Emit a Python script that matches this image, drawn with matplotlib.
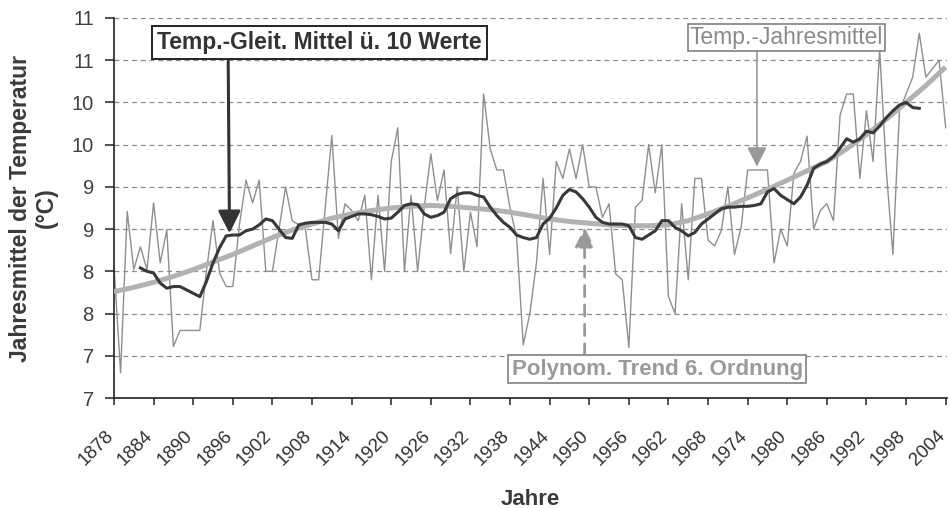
import matplotlib
matplotlib.use('Agg')
import matplotlib.pyplot as plt

plt.rcParams['font.family'] = ['Liberation Sans', 'DejaVu Sans']

#-DATA------------------------------------------------------------------------#
# Jahresmittel der Temperatur (one value per year)
years = list(range(1878, 2005))
temp_annual = [
    8.06, 6.80,                                                   # 1878-79
    8.71, 8.02, 8.29, 8.02, 8.81, 8.10, 8.49, 7.11, 7.30, 7.30,   # 1880-89
    7.30, 7.30, 8.00, 8.60, 7.98, 7.82, 7.82, 8.55, 9.08, 8.81,   # 1890-99
    9.08, 8.00, 8.00, 8.50, 9.00, 8.60, 8.55, 8.50, 7.90, 7.90,   # 1900-09
    8.75, 9.61, 8.39, 8.80, 8.72, 8.60, 8.90, 7.90, 8.90, 8.00,   # 1910-19
    9.30, 9.70, 8.00, 8.90, 8.00, 8.76, 9.39, 8.84, 9.20, 8.21,   # 1920-29
    9.00, 8.00, 8.70, 8.29, 10.10, 9.45, 9.20, 9.20, 8.75, 8.40,  # 1930-39
    7.13, 7.50, 8.10, 9.10, 8.20, 9.30, 9.10, 9.45, 9.10, 9.50,   # 1940-49
    9.00, 9.00, 8.64, 8.80, 7.97, 7.90, 7.10, 8.76, 8.84, 9.50,   # 1950-59
    8.93, 9.50, 7.70, 7.50, 8.80, 7.90, 9.10, 9.10, 8.37, 8.30,   # 1960-69
    8.48, 9.00, 8.20, 8.52, 9.20, 9.20, 9.20, 9.20, 8.10, 8.50,   # 1970-79
    8.30, 9.16, 9.30, 9.60, 8.50, 8.72, 8.80, 8.60, 9.85, 10.10,  # 1980-89
    10.10, 9.10, 9.90, 9.30, 10.62, 9.20, 8.20, 9.90, 10.10, 10.30,  # 1990-99
    10.82, 10.30, 10.40, 10.50, 9.70,                             # 2000-04
]

# Gleitendes Mittel ueber 10 Werte (dark line), 1882-2000
ma_years = list(range(1882, 2001))
temp_ma10 = [
    8.04, 8.00, 7.98, 7.86, 7.80, 7.82, 7.82, 7.78,               # 1882-89
    7.74, 7.70, 7.88, 8.10, 8.28, 8.42, 8.43, 8.43, 8.48, 8.50,   # 1890-99
    8.55, 8.62, 8.60, 8.50, 8.40, 8.39, 8.55, 8.57, 8.58, 8.58,   # 1900-09
    8.58, 8.56, 8.48, 8.62, 8.65, 8.68, 8.68, 8.67, 8.65, 8.62,   # 1910-19
    8.63, 8.70, 8.78, 8.80, 8.79, 8.68, 8.64, 8.66, 8.70, 8.86,   # 1920-29
    8.91, 8.93, 8.93, 8.90, 8.88, 8.76, 8.66, 8.58, 8.52, 8.43,   # 1930-39
    8.40, 8.38, 8.40, 8.56, 8.63, 8.75, 8.90, 8.97, 8.94, 8.86,   # 1940-49
    8.76, 8.64, 8.58, 8.56, 8.56, 8.56, 8.54, 8.40, 8.38, 8.43,   # 1950-59
    8.48, 8.60, 8.60, 8.52, 8.48, 8.42, 8.46, 8.56, 8.62, 8.68,   # 1960-69
    8.74, 8.76, 8.76, 8.77, 8.77, 8.78, 8.80, 8.94, 8.98, 8.90,   # 1970-79
    8.85, 8.80, 8.88, 9.02, 9.22, 9.27, 9.30, 9.36, 9.46, 9.57,   # 1980-89
    9.53, 9.57, 9.66, 9.64, 9.72, 9.82, 9.90, 9.97, 10.00, 9.94,  # 1990-99
    9.93,                                                         # 2000
]

# Polynom. Trend 6. Ordnung, read every 3 years
trend_years = list(range(1878, 2005, 3))
temp_trend = [
    7.76, 7.81, 7.87, 7.94, 8.02, 8.11, 8.20, 8.30, 8.40, 8.49,
    8.56, 8.63, 8.68, 8.72, 8.75, 8.77, 8.78, 8.77, 8.75, 8.73,
    8.70, 8.66, 8.62, 8.59, 8.57, 8.55, 8.54, 8.54, 8.55, 8.60,
    8.68, 8.77, 8.87, 8.97, 9.08, 9.19, 9.30, 9.45, 9.62, 9.80,
    10.00, 10.20, 10.42,
]

y_ticks = [6.5, 7.0, 7.5, 8.0, 8.5, 9.0, 9.5, 10.0, 10.5, 11.0]
y_tick_labels = ['7', '7', '8', '8', '9', '9', '10', '10', '11', '11']
x_tick_years = list(range(1878, 2005, 6))
#-END-DATA--------------------------------------------------------------------#


#-FIGURE----------------------------------------------------------------------#
W, H = 949, 508
fig = plt.figure(figsize=(W / 100, H / 100), dpi=100)
ax = fig.add_axes([114 / W, (H - 398) / H, (947 - 114) / W, (398 - 18) / H])

ax.set_xlim(1878, 2004.2)
ax.set_ylim(6.5, 11.0)

for s in ('top', 'right'):
    ax.spines[s].set_visible(False)
for s in ('left', 'bottom'):
    ax.spines[s].set_color('#222222')
    ax.spines[s].set_linewidth(1.2)

ax.set_yticks(y_ticks)
ax.set_yticklabels(y_tick_labels, fontsize=14.5, color='#404040')
ax.set_xticks(x_tick_years)
# baseline anchoring puts each rotated label a little left of its tick,
# as in the original
ax.set_xticklabels([str(y) for y in x_tick_years], fontsize=13.5,
                   color='#303030', rotation=45, ha='right', va='baseline',
                   rotation_mode='anchor')
ax.tick_params(axis='y', length=6.5, width=1.1, pad=8, color='#222222')
ax.tick_params(axis='x', length=5, width=1.1, pad=23, color='#222222')

ax.yaxis.grid(True, linestyle=(0, (4, 3)), color='#8c8c8c', linewidth=0.9)
ax.set_axisbelow(True)

ax.set_ylabel('Jahresmittel der Temperatur\n(°C)', fontsize=16.5,
              fontweight='bold', color='#3a3a3a', labelpad=10,
              linespacing=1.15)
ax.set_xlabel('Jahre', fontsize=16, fontweight='bold', color='#3a3a3a',
              labelpad=14)
#-END-FIGURE------------------------------------------------------------------#


#-SERIES----------------------------------------------------------------------#
ax.plot(years, temp_annual, color='#8f8f8f', lw=1.0, zorder=2)
ax.plot(trend_years, temp_trend, color='#b2b2b2', lw=3.6,
        solid_capstyle='butt', zorder=3)
ax.plot(ma_years, temp_ma10, color='#383838', lw=2.2, zorder=4)
#-END-SERIES------------------------------------------------------------------#


#-ANNOTATIONS-----------------------------------------------------------------#
# Moving average label + dark arrow
ax.annotate('', xy=(1895.5, 8.45), xytext=(1895.3, 10.49),
            arrowprops=dict(arrowstyle='-|>', color='#333333', lw=2.2,
                            mutation_scale=34, shrinkA=0, shrinkB=0),
            zorder=6)
ax.text(1909.1, 10.71, 'Temp.-Gleit. Mittel ü. 10 Werte', fontsize=16.5,
        fontweight='bold', color='#333333', ha='center', va='center',
        bbox=dict(boxstyle='square,pad=0.22', fc='white', ec='#222222',
                  lw=1.4), zorder=7)

# Annual mean label + grey arrow
ax.annotate('', xy=(1975.4, 9.24), xytext=(1975.4, 10.62),
            arrowprops=dict(arrowstyle='-|>', color='#999999', lw=1.2,
                            mutation_scale=30, shrinkA=0, shrinkB=0),
            zorder=6)
ax.text(1979.9, 10.77, 'Temp.-Jahresmittel', fontsize=16.5,
        color='#8a8a8a', ha='center', va='center',
        bbox=dict(boxstyle='square,pad=0.08', fc='white', ec='#777777',
                  lw=1.1), zorder=7)

# Polynomial trend label + dashed arrow
ax.annotate('', xy=(1949.3, 8.52), xytext=(1949.3, 7.01),
            arrowprops=dict(arrowstyle='-|>', color='#9a9a9a', lw=2.0,
                            linestyle=(0, (4, 3)), mutation_scale=30,
                            shrinkA=0, shrinkB=0),
            zorder=6)
ax.text(1960.3, 6.84, 'Polynom. Trend 6. Ordnung', fontsize=16,
        fontweight='bold', color='#9a9a9a', ha='center', va='center',
        bbox=dict(boxstyle='square,pad=0.15', fc='white', ec='#8a8a8a',
                  lw=1.3), zorder=7)
#-END-ANNOTATIONS-------------------------------------------------------------#

fig.savefig('out.png', dpi=100)
